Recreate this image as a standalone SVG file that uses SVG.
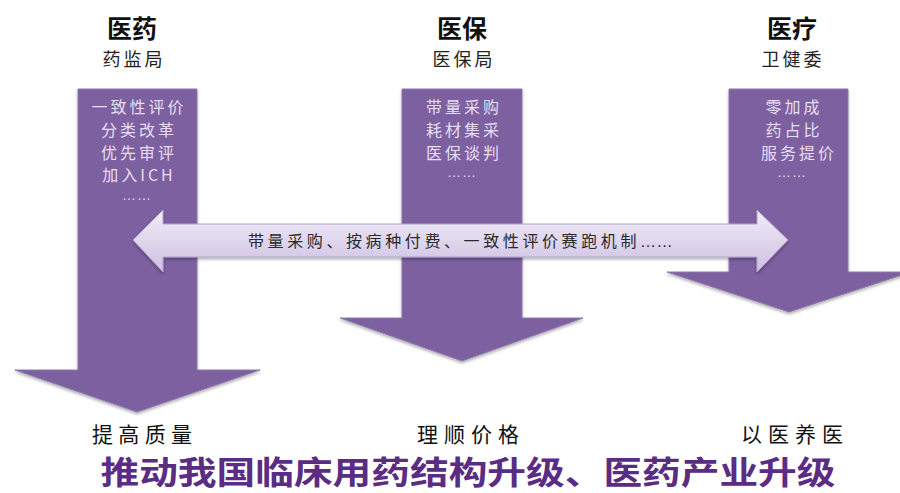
<svg xmlns="http://www.w3.org/2000/svg" width="900" height="493" viewBox="0 0 900 493">
<defs>
<linearGradient id="lav" x1="0" y1="0" x2="0" y2="1">
<stop offset="0" stop-color="#f1ecf8"/>
<stop offset="1" stop-color="#cdc0e2"/>
</linearGradient>
<filter id="sh" x="-10%" y="-10%" width="120%" height="130%">
<feGaussianBlur in="SourceAlpha" stdDeviation="1.5"/>
<feOffset dx="0" dy="2" result="b"/>
<feComponentTransfer><feFuncA type="linear" slope="0.3"/></feComponentTransfer>
<feMerge><feMergeNode/><feMergeNode in="SourceGraphic"/></feMerge>
</filter>
</defs>
<style>
.arrow{fill:#7d61a0;stroke:#8f79ae;stroke-width:1;filter:url(#sh)}
.h{font-family:"Noto Sans CJK SC",sans-serif;font-weight:bold;font-size:25px;fill:#111;text-anchor:middle}
.s{font-family:"Noto Sans CJK SC",sans-serif;font-size:18px;fill:#222;text-anchor:middle;letter-spacing:3px}
.in{font-family:"Noto Sans CJK SC",sans-serif;font-size:16px;fill:#e6def2;text-anchor:middle;letter-spacing:3px}
.dots{font-family:"Liberation Sans",sans-serif;font-size:14px;fill:#e6def2;text-anchor:middle;letter-spacing:1px}
.mid{font-family:"Noto Sans CJK SC",sans-serif;font-size:16px;fill:#2a2a2a;letter-spacing:3.6px}
.md{font-family:"Liberation Sans",sans-serif;letter-spacing:0.5px}
.b{font-family:"Noto Sans CJK SC",sans-serif;font-size:21px;fill:#111;text-anchor:middle}
.big{font-family:"Noto Sans CJK SC",sans-serif;font-weight:bold;font-size:32px;fill:#5b2c83;text-anchor:middle}
</style>
<rect width="900" height="493" fill="#ffffff"/>

<g id="node-yiyao">
<text class="h" x="132" y="38">医药</text>
<text class="s" x="134" y="66">药监局</text>
<polygon class="arrow" points="78,89 197,89 197,370 260,370 137,412 15,370 78,370"/>
<text class="in" x="139" y="113">一致性评价</text>
<text class="in" x="139" y="136">分类改革</text>
<text class="in" x="139" y="159">优先审评</text>
<text class="in" x="139" y="181">加入ICH</text>
<text class="dots" x="137" y="200">……</text>
<text class="b" x="142" y="442" textLength="100" lengthAdjust="spacing">提高质量</text>
</g>

<g id="node-yibao">
<text class="h" x="462" y="38">医保</text>
<text class="s" x="464" y="66">医保局</text>
<polygon class="arrow" points="402,89 522,89 522,318 583,318 462,361 340,318 402,318"/>
<text class="in" x="464" y="113">带量采购</text>
<text class="in" x="464" y="136">耗材集采</text>
<text class="in" x="464" y="159">医保谈判</text>
<text class="dots" x="462" y="177">……</text>
<text class="b" x="468" y="442" textLength="102" lengthAdjust="spacing">理顺价格</text>
</g>

<g id="node-yiliao">
<text class="h" x="792" y="38">医疗</text>
<text class="s" x="793" y="66">卫健委</text>
<polygon class="arrow" points="729,89 848,89 848,272 911,272 789,312 667,272 729,272"/>
<text class="in" x="794" y="113">零加成</text>
<text class="in" x="794" y="136">药占比</text>
<text class="in" x="799" y="159">服务提价</text>
<text class="dots" x="792" y="177">……</text>
<text class="b" x="792" y="442" textLength="102" lengthAdjust="spacing">以医养医</text>
</g>

<g id="connectors">
<polygon points="133,240 163,210 163,224 757,224 757,210 788,240 757,272 757,257 163,257 163,272" fill="url(#lav)" stroke="#b3a5c9" stroke-width="1" filter="url(#sh)"/>
<text class="mid" x="248" y="247">带量采购、按病种付费、一致性评价赛跑机制<tspan class="md">……</tspan></text>
</g>

<g id="conclusion">
<text class="big" x="468" y="484" textLength="735" lengthAdjust="spacingAndGlyphs">推动我国临床用药结构升级、医药产业升级</text>
</g>
</svg>
